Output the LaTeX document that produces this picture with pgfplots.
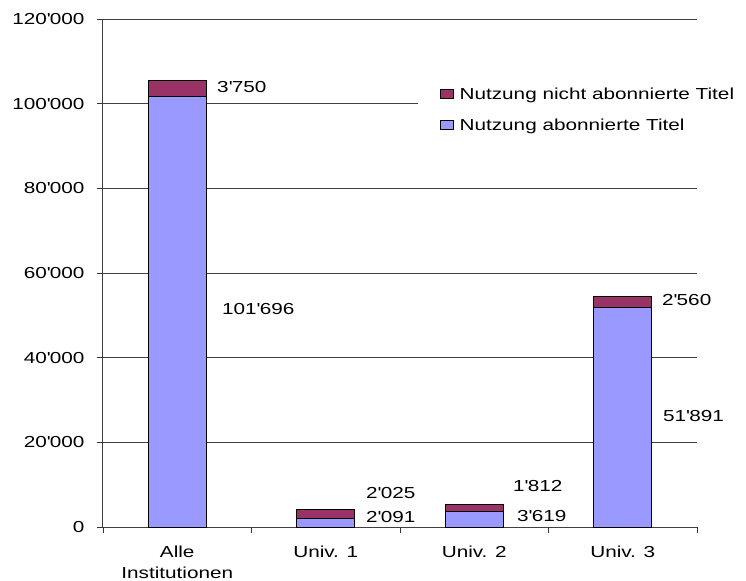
\documentclass[border=0pt]{standalone}
\usepackage{fontspec}
\setmainfont{Liberation Sans}[FakeStretch=1.3]
\usepackage{pgfplots}
\pgfplotsset{compat=1.18}

\definecolor{abo}{HTML}{9999FF}
\definecolor{nichtabo}{HTML}{993366}

\pgfplotsset{
  base/.style={
    scale only axis, width=594bp, height=508bp,
    xmin=0, xmax=4, ymin=0, ymax=120000,
    at={(0,0)}, anchor=origin,
    /pgf/number format/fixed,
    /pgf/number format/precision=0,
    /pgf/number format/1000 sep={\textquotesingle},
    /pgf/number format/assume math mode=true,
  },
}

\begin{document}
\begin{tikzpicture}
\path[use as bounding box] (-103bp,-54bp) rectangle (643bp,527bp);

\begin{axis}[
  base,
  ybar stacked,
  bar width=0.39,
  axis x line=bottom, axis y line=left,
  axis line style={-, black!75, line width=1bp},
  tick align=outside, major tick length=6bp,
  tick style={black!80, line width=0.8bp},
  ytick={0,20000,...,120000},
  scaled y ticks=false,
  ymajorgrids, grid style={black!75, line width=0.9bp},
  xtick={0,1,2,3,4},
  x tick label as interval,
  xticklabels={{Alle\\Institutionen}, {Univ. 1}, {Univ. 2}, {Univ. 3}},
  xticklabel style={align=center, yshift=-9bp, font=\fontsize{16}{22}\selectfont},
  yticklabel style={xshift=-9bp, font=\fontsize{16}{19}\selectfont},
  legend style={at={(0.530,0.885)}, anchor=north west, draw=none, fill=white,
    inner xsep=22bp, inner ysep=8bp, row sep=14bp,
    font=\fontsize{16}{19}\selectfont},
  legend cell align=left,
  legend image code/.code={\draw[#1, draw=black, line width=0.6bp] (0bp,-4.5bp) rectangle (13bp,4.5bp);},
  reverse legend,
]
\addplot[fill=abo, draw=black, line width=0.9bp]
  coordinates {(0.5,101696) (1.5,2091) (2.5,3619) (3.5,51891)};
\addplot[fill=nichtabo, draw=black, line width=0.9bp]
  coordinates {(0.5,3750) (1.5,2025) (2.5,1812) (3.5,2560)};
\legend{\hspace{4bp}Nutzung abonnierte Titel, \hspace{4bp}Nutzung nicht abonnierte Titel}
\end{axis}

% data labels of the stacked segments
\begin{axis}[base, hide axis]
\addplot[draw=none, mark=none, point meta=explicit,
  nodes near coords={\pgfmathprintnumber{\pgfplotspointmeta}},
  nodes near coords align={anchor=west},
  every node near coord/.append style={inner sep=0pt, font=\fontsize{16}{19}\selectfont}]
  table[meta=v] {
x      y       v
0.768  103937  3750
0.801  51496   101696
1.771  8031    2025
1.771  2362    2091
2.761  9685    1812
2.788  2598    3619
3.764  53622   2560
3.771  26220   51891
};
\end{axis}
\end{tikzpicture}
\end{document}
